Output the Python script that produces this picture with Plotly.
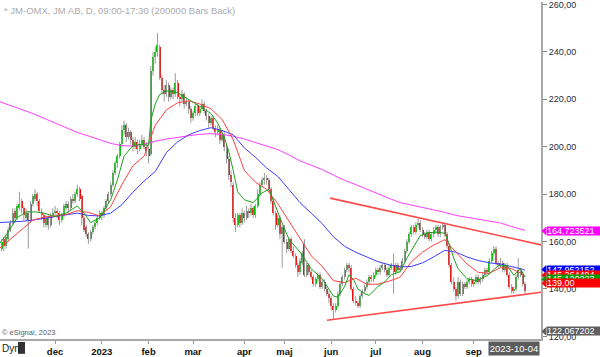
import plotly.graph_objects as go
import pandas as pd

# ---------------- data ----------------
holidays = ["2022-12-26", "2023-01-06", "2023-04-07", "2023-04-10", "2023-05-01",
            "2023-05-18", "2023-06-06", "2023-06-23"]
dates = [d.strftime("%Y-%m-%d") for d in pd.bdate_range("2022-10-27", "2023-10-04")
         if d.strftime("%Y-%m-%d") not in holidays]

opens = [155, 157, 161, 158, 161, 165, 168, 173, 170, 174,
         177, 174, 170, 172, 169, 176, 178, 180, 177, 172,
         171, 167, 170, 167, 171, 172, 173, 172, 169, 171,
         174, 176, 174, 178, 177, 180, 182, 179, 170, 166,
         163, 161, 164, 166, 168, 170, 172, 171, 174, 177,
         180, 184, 189, 193, 196, 201, 207, 209, 204, 206,
         203, 200, 202, 199, 201, 203, 200, 199, 197, 232,
         238, 240, 242, 229, 224, 222, 226, 221, 224, 222,
         227, 221, 220, 222, 218, 219, 216, 212, 214, 217,
         214, 216, 218, 215, 213, 210, 212, 208, 206, 207,
         203, 205, 200, 195, 188, 184, 170, 167, 171, 168,
         172, 170, 173, 172, 174, 171, 175, 180, 184, 186,
         187, 186, 182, 177, 172, 167, 170, 163, 166, 160,
         157, 161, 156, 154, 150, 147, 151, 159, 146, 150,
         147, 145, 142, 144, 146, 141, 143, 140, 138, 136,
         133, 131, 133, 138, 142, 145, 148, 150, 149, 140,
         135, 134, 133, 137, 139, 141, 143, 145, 144, 146,
         148, 147, 149, 150, 148, 146, 149, 150, 147, 150,
         148, 149, 152, 156, 160, 163, 166, 164, 167, 168,
         165, 163, 162, 164, 161, 163, 165, 166, 163, 166,
         167, 163, 158, 150, 143, 140, 137, 143, 138, 142,
         141, 143, 144, 142, 143, 145, 143, 144, 146, 148,
         147, 152, 155, 157, 151, 150, 151, 148, 150, 146,
         141, 139, 140, 145, 148, 146, 142]
highs = [159, 161, 162, 163, 166, 169, 174, 174, 176, 181,
         178, 175, 174, 173, 177, 180, 182, 181, 178, 174,
         172, 171, 171, 172, 174, 175, 174, 173, 172, 176,
         177, 177, 179, 180, 181, 184, 183, 180, 171, 167,
         164, 165, 167, 169, 171, 173, 173, 175, 178, 181,
         185, 190, 194, 197, 202, 209, 211, 210, 208, 207,
         204, 204, 203, 203, 205, 204, 202, 200, 234, 240,
         242, 248, 243, 230, 226, 228, 227, 225, 225, 231,
         228, 222, 224, 223, 221, 220, 217, 215, 218, 218,
         217, 220, 219, 216, 214, 213, 213, 209, 209, 208,
         207, 206, 201, 196, 190, 185, 172, 172, 172, 174,
         173, 175, 174, 176, 175, 176, 182, 185, 187, 189,
         188, 187, 183, 178, 173, 171, 171, 167, 167, 161,
         162, 162, 158, 155, 151, 153, 156, 161, 151, 151,
         148, 146, 145, 147, 147, 144, 144, 141, 139, 137,
         134, 134, 139, 143, 146, 149, 151, 151, 150, 141,
         137, 135, 138, 140, 142, 144, 146, 146, 147, 149,
         149, 150, 151, 151, 149, 150, 151, 155, 151, 151,
         150, 153, 157, 161, 164, 167, 167, 168, 169.5, 169,
         166, 164, 165, 165, 164, 166, 167, 167, 167, 168,
         168, 164, 159, 151, 145, 141, 145, 144, 143, 143,
         144, 145, 145, 144, 146, 146, 145, 147, 149, 149,
         153, 156, 158, 158, 152, 153, 152, 151, 151, 147,
         142, 141, 146, 153, 149, 147, 143]
lows = [154, 156, 156, 157, 160, 164, 167, 168, 169, 173,
        172, 169, 169, 157, 168, 175, 177, 175, 172, 169,
        166, 166, 165, 166, 170, 171, 170, 167, 168, 170,
        173, 172, 173, 176, 176, 179, 177, 167, 164, 162,
        159, 160, 163, 165, 167, 169, 169, 170, 173, 176,
        179, 183, 188, 191, 195, 200, 205, 202, 203, 201,
        198, 199, 197, 198, 200, 199, 196, 193, 196, 230,
        235, 238, 228, 222, 219, 221, 219, 220, 220, 221,
        220, 217, 219, 216, 217, 214, 210, 211, 213, 213,
        213, 215, 214, 211, 208, 209, 207, 204, 205, 201,
        202, 198, 193, 186, 183, 168, 164, 166, 166, 167,
        168, 169, 170, 171, 170, 170, 174, 179, 183, 184,
        184, 181, 176, 171, 165, 166, 161, 149, 159, 155,
        156, 155, 153, 149, 145, 146, 150, 145, 145, 146,
        144, 141, 141, 143, 140, 140, 139, 137, 134, 131,
        127, 130, 132, 137, 141, 144, 147, 147, 139, 134,
        133, 132, 132, 136, 138, 140, 142, 143, 143, 145,
        146, 146, 148, 147, 145, 145, 148, 138, 146, 147,
        147, 148, 151, 155, 159, 162, 163, 163, 166, 164,
        162, 161, 161, 160, 160, 162, 164, 162, 162, 165,
        162, 157, 149, 142, 139, 135, 136, 137, 137, 140,
        140, 142, 141, 141, 142, 142, 142, 143, 145, 146,
        146, 151, 154, 150, 149, 149, 147, 147, 145, 140,
        138, 138, 139, 144, 145, 141, 138]
closes = [157, 160, 158, 162, 165, 168, 172, 170, 175, 176,
          174, 171, 172, 169, 176, 179, 180, 177, 173, 171,
          168, 170, 167, 171, 172, 173, 172, 169, 171, 175,
          176, 174, 178, 177, 180, 182, 178, 170, 165, 163,
          161, 164, 166, 168, 170, 172, 171, 174, 177, 180,
          184, 189, 193, 196, 201, 207, 209, 204, 206, 203,
          200, 202, 199, 201, 203, 200, 198, 196, 232, 238,
          240, 243, 229, 224, 222, 226, 221, 224, 222, 227,
          221, 220, 222, 218, 219, 216, 212, 214, 217, 214,
          216, 218, 215, 213, 210, 212, 208, 206, 207, 203,
          205, 200, 195, 188, 185, 170, 167, 171, 168, 172,
          170, 173, 172, 174, 171, 175, 180, 184, 186, 187,
          186, 182, 177, 172, 167, 170, 163, 166, 160, 157,
          161, 156, 154, 150, 147, 152, 155, 146, 150, 147,
          145, 142, 144, 146, 141, 143, 140, 138, 136, 133,
          131, 133, 138, 142, 145, 148, 150, 149, 140, 135,
          134, 133, 137, 139, 141, 143, 145, 144, 146, 148,
          147, 149, 150, 148, 146, 149, 150, 147, 150, 148,
          149, 152, 156, 160, 163, 166, 164, 167, 168, 165,
          163, 162, 164, 161, 163, 165, 166, 163, 166, 167,
          163, 158, 150, 143, 140, 137, 143, 138, 142, 141,
          143, 144, 142, 143, 145, 143, 144, 146, 148, 147,
          152, 155, 157, 151, 150, 151, 148, 150, 146, 141,
          139, 140, 145, 148, 146, 142, 139]

ma_idx = [0, 5, 10, 15, 20, 25, 30, 35, 40, 45, 50, 55, 60, 65, 70, 75, 80, 85, 90, 95,
          100, 105, 110, 115, 120, 125, 130, 135, 140, 145, 150, 155, 160, 165, 170, 175,
          180, 185, 190, 195, 200, 205, 210, 215, 220, 225, 230, 235, 236]
ma200 = [219, 217.4, 215.8, 214, 212, 210, 208.2, 206, 204.5, 203, 201.4, 200.4, 200.3,
         201, 202.3, 203.2, 204, 204.6, 205.2, 205.5, 205.2, 204.4, 203.2, 201.8, 200.4,
         198.8, 196.5, 194, 192.2, 190.3, 188, 185.8, 184, 182, 180, 178.2, 176.4, 175.4,
         174.6, 173.6, 172.3, 171, 170.2, 169.5, 168.8, 167.8, 166.3, 165, 164.72]
ma50 = [168, 168.2, 168.5, 169, 169.8, 170.5, 171.2, 172, 171, 170.8, 172, 175.5, 180.8,
        185.5, 189.5, 197.5, 202, 205, 206.8, 208, 206.8, 205, 199.5, 195.5, 191, 187.5,
        182, 176.4, 172, 167.5, 162, 158, 155.5, 153.5, 151.5, 150.2, 149.3, 149.5, 151,
        153.5, 156.3, 155.5, 153.5, 152, 151, 150.5, 149.5, 148.3, 147.95]
ma20 = [157, 161, 165, 169, 170.3, 170.8, 171.4, 173, 172.3, 170.8, 174.7, 184, 192, 196,
        209, 215.5, 218.5, 219.3, 218, 216, 211.5, 203, 190, 185, 182, 176, 168.5, 161,
        154, 149.5, 143.5, 142.7, 144.5, 142, 142, 143.3, 145, 151.5, 155.5, 158.5, 160.8,
        155.5, 150.5, 147, 146.6, 149, 148.5, 146.3, 145.26]
ma_fast_idx = [0, 4, 8, 12, 16, 20, 25, 30, 35, 38, 41, 45, 50, 53, 56, 60, 64, 67, 68,
               70, 72, 75, 80, 85, 90, 95, 98, 101, 103, 105, 107, 110, 114, 118, 121,
               124, 126, 130, 135, 140, 145, 150, 152, 155, 157, 159, 161, 164, 166, 170,
               173, 176, 180, 183, 186, 189, 193, 197, 200, 202, 204, 206, 210, 214, 219,
               224, 228, 231, 234, 236]
ma_fast = [159, 164, 170, 172.5, 172.5, 172, 170.5, 172, 175, 172, 168, 170, 177.6, 186,
           196, 200.5, 201, 200.5, 211, 218, 222, 223.5, 222.8, 220, 217, 214, 210, 204,
           198, 190, 181, 177.6, 176.4, 180.5, 182, 175, 170, 161, 155.6, 148.5, 144.3,
           137, 136.5, 141, 146, 144, 140, 138, 137.3, 141, 143, 146, 147.3, 153, 158,
           162.5, 163.8, 163.9, 163.5, 159, 153, 148.5, 144.3, 143.5, 145.6, 149.8, 149.8,
           145.8, 148.5, 145.12]

# trend lines: (bar position, price)
trend_upper_x = [148.5, 243.2]
trend_upper_y = [178.3, 158.6]
trend_lower_x = [147.1, 243.2]
trend_lower_y = [126.8, 138.6]

month_starts = ["2022-12-01", "2023-01-02", "2023-02-01", "2023-03-01", "2023-04-03",
                "2023-05-02", "2023-06-01", "2023-07-03", "2023-08-01", "2023-09-01"]
month_labels = ["dec", "2023", "feb", "mar", "apr", "maj", "jun", "jul", "aug", "sep"]

tag_texts = ["164,723521", "147,952152", "145,264494", "145,120223", "139,00", "122,067202"]
tag_colors = ["#ff00ff", "#0000ff", "#ff0000", "#009c00", "#ff0000", "#5f5f5f"]

# ---------------- figure ----------------
idx = list(range(len(dates)))
GREEN, RED = "#00c000", "#e81010"

wx, wy = [], []
for i, (lo, hi) in enumerate(zip(lows, highs)):
    wx += [i, i, None]
    wy += [lo, hi, None]

fig = go.Figure()
fig.add_trace(go.Scatter(x=wx, y=wy, mode="lines", line=dict(color="#9a9a9a", width=1),
                         hoverinfo="skip"))
fig.add_trace(go.Bar(x=idx, base=opens, y=[c - o for o, c in zip(opens, closes)],
                     width=0.9, marker=dict(color=[GREEN if c >= o else RED
                                                   for o, c in zip(opens, closes)],
                                            line=dict(width=0))))
for xs, ys, col in [(ma_idx, ma200, "#ff3cff"), (ma_idx, ma50, "#3c3cff"),
                    (ma_idx, ma20, "#ff4040"), (ma_fast_idx, ma_fast, "#1ea01e")]:
    fig.add_trace(go.Scatter(x=xs, y=ys, mode="lines", line=dict(color=col, width=1)))
for xs, ys in [(trend_upper_x, trend_upper_y), (trend_lower_x, trend_lower_y)]:
    fig.add_trace(go.Scatter(x=xs, y=ys, mode="lines", line=dict(color="#ff4a4a", width=1.6)))

YMIN, YMAX = 118.9, 261.0
tickvals = [dates.index(d) for d in month_starts]

fig.update_layout(
    width=600, height=357, margin=dict(l=0, r=59, t=0, b=16),
    paper_bgcolor="white", plot_bgcolor="white", showlegend=False,
    separators=",.", bargap=0,
    font=dict(family="Arial, Liberation Sans, sans-serif"),
    xaxis=dict(type="linear", range=[0.3, 243.2], showgrid=False, zeroline=False,
               showline=True, linecolor="#a8a8a8", linewidth=2,
               tickvals=tickvals, ticktext=["<b>%s</b>" % t for t in month_labels],
               ticks="outside", ticklen=3, tickcolor="#999",
               tickfont=dict(size=9.5, color="#111")),
    yaxis=dict(side="right", range=[YMIN, YMAX], showgrid=False, zeroline=False,
               showline=True, linecolor="#a8a8a8", linewidth=2, dtick=20, tick0=0,
               tickformat=".2f", ticks="outside", ticklen=4, tickcolor="#888",
               ticklabeloverflow="allow",
               tickfont=dict(size=9, color="#2a2a3a")),
)

def px2price(py):
    return YMAX - py * (YMAX - YMIN) / 341.0

tag_px = [231.7, 270.7, 276.6, 280.6, 284.6, 333.3]
PX = 1.0 / 541.0
annotations = []
shapes = []
for t, c, py in zip(tag_texts, tag_colors, tag_px):
    yc = px2price(py)
    h = 4.2 * (YMAX - YMIN) / 341.0
    shapes.append(dict(type="path", xref="paper", yref="y",
                       path="M %f,%f L %f,%f L %f,%f Z" % (1 + 0.5 * PX, yc, 1 + 5 * PX, yc + h,
                                                           1 + 5 * PX, yc - h),
                       fillcolor=c, line=dict(width=0), layer="above"))
    annotations.append(dict(xref="paper", yref="y", x=1 + 4.5 * PX, y=yc, xanchor="left",
                            yanchor="middle", text=t, showarrow=False, bgcolor=c,
                            width=54, height=8, borderpad=0, align="left",
                            font=dict(size=9, color="white")))

annotations.append(dict(xref="paper", yref="paper", x=0.004, y=1, xanchor="left", yanchor="top",
                        yshift=-1, showarrow=False,
                        text="* JM-OMX, JM AB, D, 09:00-17:30 (200000 Bars Back)",
                        font=dict(size=9.5, color="#ababab")))
annotations.append(dict(xref="paper", yref="paper", x=0, y=7 / 341, xanchor="left",
                        yanchor="middle", showarrow=False, text="© eSignal, 2023",
                        font=dict(size=7.5, color="#606060")))
annotations.append(dict(xref="paper", yref="paper", x=0, y=-9.5 / 341, xanchor="left",
                        yanchor="middle", showarrow=False, text="Dyn",
                        font=dict(size=10, color="#222")))
annotations.append(dict(xref="paper", yref="paper", x=514 / 541, y=-9.5 / 341,
                        xanchor="center", yanchor="middle", showarrow=False,
                        text="2023-10-04", bgcolor="#5c5c5c", width=50, height=13,
                        borderpad=0, font=dict(size=9.5, color="white")))
shapes.append(dict(type="rect", xref="paper", yref="paper", x0=18 * PX, x1=25 * PX,
                   y0=-15 / 341, y1=-3 / 341, fillcolor="#333", line=dict(width=0)))

fig.update_layout(annotations=annotations, shapes=shapes)
fig.write_html("out.html", config={"displayModeBar": False},
               post_script="document.body.style.margin='0px';")
